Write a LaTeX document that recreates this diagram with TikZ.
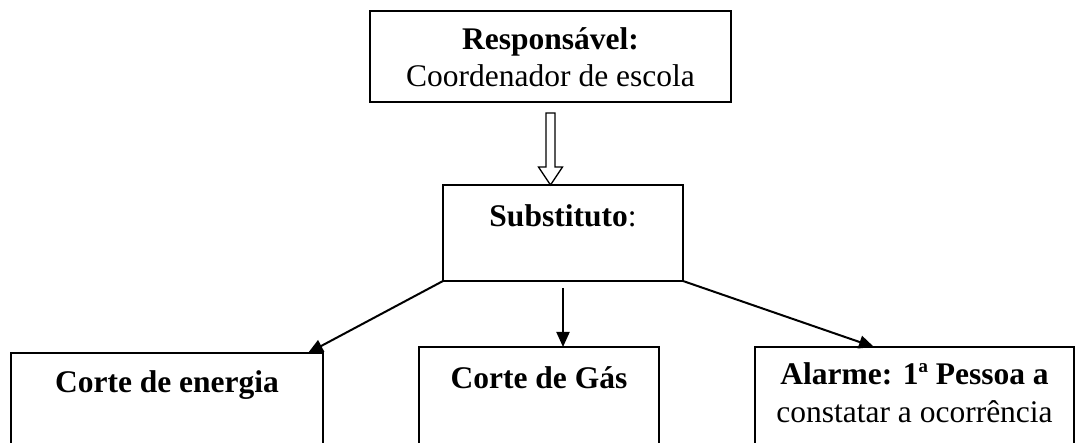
\documentclass[tikz,border=0pt]{standalone}
\usepackage{fontspec}
\setmainfont{Liberation Serif}
\usetikzlibrary{arrows.meta,calc}
\begin{document}
\begin{tikzpicture}[x=1pt,y=-1pt,
  box/.style={draw,line width=1.6pt,inner sep=0pt,outer sep=0pt,anchor=north west},
  txt/.style={font=\fontsize{31.5}{36}\selectfont,anchor=base,inner sep=0pt},
  conn/.style={line width=2pt,-{Triangle[length=15pt,width=13pt]}},
  hollow/.style={draw,line width=1.3pt,fill=white,line join=miter}]
\useasboundingbox (0,0) rectangle (1087,443);
\clip (0,0) rectangle (1087,443);
% boxes
\node[box,minimum width=361pt,minimum height=91pt] (resp) at (370,11) {};
\node[box,minimum width=240pt,minimum height=96pt] (sub) at (443,185) {};
\node[box,minimum width=312pt,minimum height=120pt] (energia) at (11,353) {};
\node[box,minimum width=240pt,minimum height=120pt] (gas) at (419,347) {};
\node[box,minimum width=319pt,minimum height=120pt] (alarme) at (755,347) {};
% texts
\node[txt] (resptitle) at (550.5,50) {\textbf{Responsável:}};
\node[txt] (respname) at (550.5,87) {Coordenador de escola};
\node[txt] (subtxt) at (563,227) {\textbf{Substituto}:};
\node[txt] (energiatxt) at (167,393) {\textbf{Corte de energia}};
\node[txt] (gastxt) at (539,389) {\textbf{Corte de Gás}};
\node[txt] (alarmetxt) at (914.5,385) {\textbf{Alarme: 1ª Pessoa a}};
\node[txt] (alarmetxt2) at (914.5,422) {constatar a ocorrência};
% hollow arrow
\coordinate (tip) at (resp.south |- sub.north);
\draw[hollow] ($(tip)+(-4.5,-72)$) -- ($(tip)+(4.5,-72)$) -- ($(tip)+(4.5,-18)$)
  -- ($(tip)+(12,-18)$) -- (tip) -- ($(tip)+(-12,-18)$) -- ($(tip)+(-4.5,-18)$) -- cycle;
% connectors
\draw[conn] (sub.south west) -- ($(energia.north east)+(-15,0)$);
\draw[conn] ($(sub.south)+(0,7)$) -- (gas.north -| sub.south);
\draw[conn] (sub.south east) -- ($(alarme.north west)+(119,0)$);
\end{tikzpicture}
\end{document}
